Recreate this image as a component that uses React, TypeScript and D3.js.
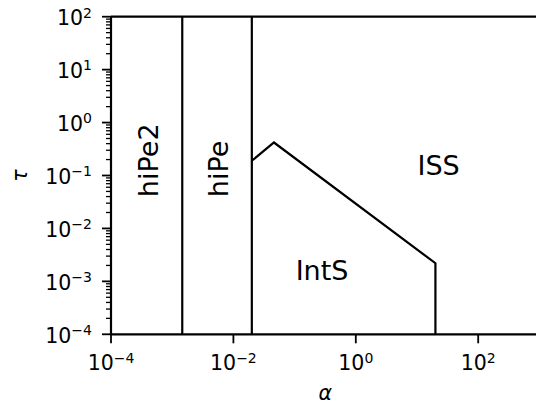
import React from 'react';
import * as d3 from 'd3';

// boundary lines of the regime map (alpha, tau)
const leftBoundaryAlpha = [1.46e-3, 1.46e-3];
const leftBoundaryTau = [1e-4, 1e2];
const midBoundaryAlpha = [0.02, 0.02];
const midBoundaryTau = [1e-4, 1e2];
const issBoundaryAlpha = [0.02, 0.046, 20, 20];
const issBoundaryTau = [0.19, 0.42, 0.0022, 1e-4];

const xTickExps = [-4, -2, 0, 2];
const yTickExps = [-4, -3, -2, -1, 0, 1, 2];

const regionLabels = [
  { name: 'hiPe2', alpha: 5.9e-4, tau: 0.039, rotate: true },
  { name: 'hiPe', alpha: 8.2e-3, tau: 0.039, rotate: true },
  { name: 'ISS', alpha: 10.2, tau: 0.102, rotate: false },
  { name: 'IntS', alpha: 0.104, tau: 1.05e-3, rotate: false },
];

const sup = (e: number) => (e < 0 ? '\u2212' + Math.abs(e) : String(e));

const App = () => {
  const width = 536;
  const height = 405;
  const left = 111;
  const top = 16.7;
  const bottom = 334.3;
  const decade = 61.2;

  const x = d3.scaleLog().domain([1e-4, 1e3]).range([left, left + 7 * decade]);
  const y = d3.scaleLog().domain([1e-4, 1e2]).range([bottom, top]);

  const line = d3.line<[number, number]>()
    .x(d => x(d[0]))
    .y(d => y(d[1]));

  const zip = (a: number[], b: number[]) => a.map((v, i) => [v, b[i]] as [number, number]);

  const yMinor: number[] = [];
  for (let e = -4; e < 2; e++) {
    for (let m = 2; m < 10; m++) yMinor.push(m * Math.pow(10, e));
  }

  const font = 'DejaVu Sans, sans-serif';

  return (
    <svg width={width} height={height} style={{ position: 'absolute', left: 0, top: 0, background: '#fff' }}>
      <g fill="none" stroke="#000" strokeWidth={2.2}>
        <path d={line(zip(leftBoundaryAlpha, leftBoundaryTau)) || ''} />
        <path d={line(zip(midBoundaryAlpha, midBoundaryTau)) || ''} />
        <path d={line(zip(issBoundaryAlpha, issBoundaryTau)) || ''} strokeLinejoin="miter" />
      </g>

      {/* spines */}
      <g stroke="#000" strokeWidth={2.2}>
        <line x1={left} x2={width} y1={top} y2={top} />
        <line x1={left} x2={width} y1={bottom} y2={bottom} />
        <line x1={left} x2={left} y1={top} y2={bottom} />
      </g>

      {/* ticks */}
      <g stroke="#000">
        {yTickExps.map(e => (
          <line key={'y' + e} x1={left - 9} x2={left} y1={y(Math.pow(10, e))} y2={y(Math.pow(10, e))} strokeWidth={1.8} />
        ))}
        {yMinor.map((v, i) => (
          <line key={'ym' + i} x1={left - 5} x2={left} y1={y(v)} y2={y(v)} strokeWidth={1.3} />
        ))}
        {xTickExps.map(e => (
          <line key={'x' + e} x1={x(Math.pow(10, e))} x2={x(Math.pow(10, e))} y1={bottom} y2={bottom + 9} strokeWidth={1.8} />
        ))}
      </g>

      <g fontFamily={font} fill="#000">
        {yTickExps.map(e => (
          <text key={'yl' + e} x={92} y={y(Math.pow(10, e)) + 8.3} textAnchor="end" fontSize={20.5}>
            <tspan>10</tspan>
            <tspan fontSize={14} dy={-7.5}>{sup(e)}</tspan>
          </text>
        ))}
        {xTickExps.map(e => (
          <text key={'xl' + e} x={x(Math.pow(10, e))} y={370} textAnchor="middle" fontSize={20.5}>
            <tspan>10</tspan>
            <tspan fontSize={14} dy={-7.5}>{sup(e)}</tspan>
          </text>
        ))}
        <text x={(left + left + 7 * decade) / 2} y={400} textAnchor="middle" fontSize={20.5} fontStyle="italic">α</text>
        <text transform={`translate(27,${(top + bottom) / 2}) rotate(-90)`} textAnchor="middle" fontSize={20.5} fontStyle="italic">τ</text>

        {regionLabels.map(r =>
          r.rotate ? (
            <text key={r.name} transform={`translate(${x(r.alpha)},${y(r.tau)}) rotate(-90)`} fontSize={27}>{r.name}</text>
          ) : (
            <text key={r.name} x={x(r.alpha)} y={y(r.tau)} fontSize={27}>{r.name}</text>
          )
        )}
      </g>
    </svg>
  );
};

export default App;
